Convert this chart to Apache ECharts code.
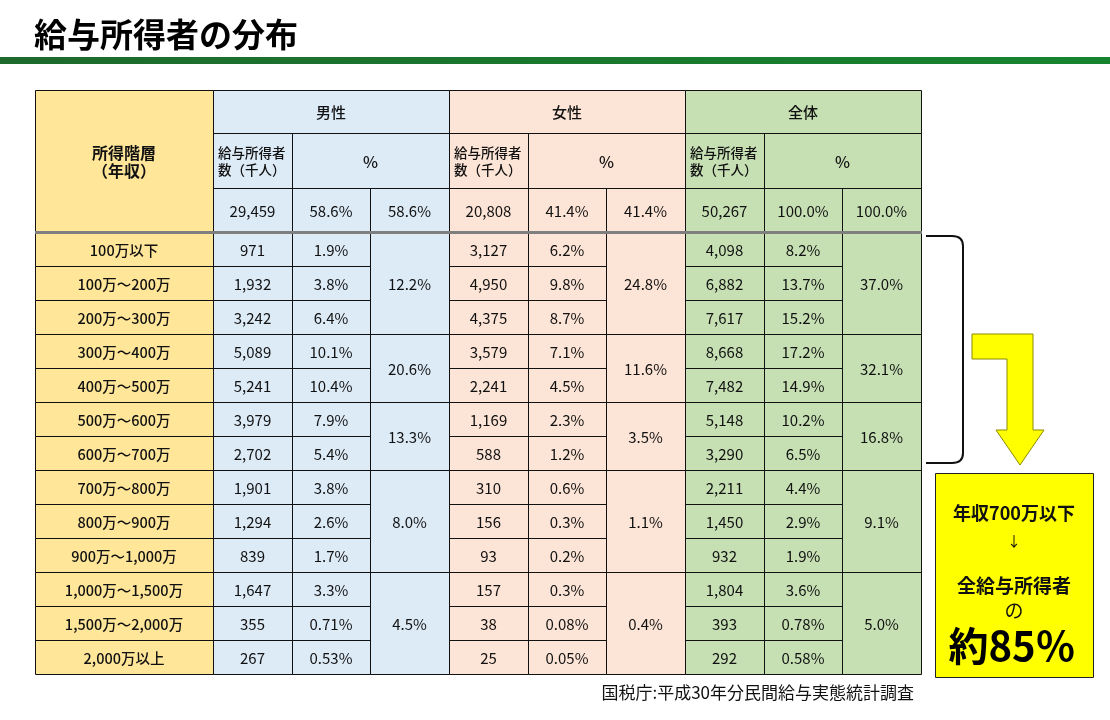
<!DOCTYPE html>
<html><head><meta charset="utf-8">
<script src="https://cdn.jsdelivr.net/npm/echarts@6/dist/echarts.min.js"></script>
<style>html,body{margin:0;padding:0;background:#fff}#c{width:1110px;height:720px}</style>
</head><body><div id="c"></div>
<script>
// ---------- DATA ----------
const incomeBands = ['100万以下','100万～200万','200万～300万','300万～400万','400万～500万','500万～600万','600万～700万','700万～800万','800万～900万','900万～1,000万','1,000万～1,500万','1,500万～2,000万','2,000万以上'];
const maleCount   = [971,1932,3242,5089,5241,3979,2702,1901,1294,839,1647,355,267];
const malePct     = ['1.9%','3.8%','6.4%','10.1%','10.4%','7.9%','5.4%','3.8%','2.6%','1.7%','3.3%','0.71%','0.53%'];
const femaleCount = [3127,4950,4375,3579,2241,1169,588,310,156,93,157,38,25];
const femalePct   = ['6.2%','9.8%','8.7%','7.1%','4.5%','2.3%','1.2%','0.6%','0.3%','0.2%','0.3%','0.08%','0.05%'];
const totalCount  = [4098,6882,7617,8668,7482,5148,3290,2211,1450,932,1804,393,292];
const totalPct    = ['8.2%','13.7%','15.2%','17.2%','14.9%','10.2%','6.5%','4.4%','2.9%','1.9%','3.6%','0.78%','0.58%'];
const bandGroups     = [[0,3],[3,5],[5,7],[7,10],[10,13]];
const maleGroupPct   = ['12.2%','20.6%','13.3%','8.0%','4.5%'];
const femaleGroupPct = ['24.8%','11.6%','3.5%','1.1%','0.4%'];
const totalGroupPct  = ['37.0%','32.1%','16.8%','9.1%','5.0%'];
const sexLabels = ['男性','女性','全体'];
const sumCount  = [29459,20808,50267];
const sumPct    = ['58.6%','41.4%','100.0%'];
const titleText = '給与所得者の分布';
const sourceText = '国税庁:平成30年分民間給与実態統計調査';
const calloutLines = ['年収700万以下','↓','全給与所得者','の','約85％'];
const bracketRows = [0, 7];

// ---------- LAYOUT / STYLE ----------
const FONT = '"Noto Sans CJK JP", "Noto Sans", sans-serif';
const colWidths = [178,79,78,79,79,78,79,79,78,79];
const headerHeights = [43,55,44];
const rowHeight = 34;
const groupFills = ['#DDEBF7','#FCE4D6','#C6E0B4'];
const labelFill = '#FFE699';

const colEdges = [0]; colWidths.forEach(w => colEdges.push(colEdges[colEdges.length-1] + w));
const headEdges = [0]; headerHeights.forEach(h => headEdges.push(headEdges[headEdges.length-1] + h));
const bodyTop = headEdges[3];
const rowEdge = r => bodyTop + r * rowHeight;
const tableW = colEdges[colEdges.length-1];
const tableH = bodyTop + incomeBands.length * rowHeight;

const fmt = n => n.toLocaleString('en-US');
const counts = [maleCount, femaleCount, totalCount];
const pcts = [malePct, femalePct, totalPct];
const groupPcts = [maleGroupPct, femaleGroupPct, totalGroupPct];

const cells = [];
function addCell(c0, c1, y0, y1, text, fill, opt) {
  cells.push(Object.assign({value:[colEdges[c0], colEdges[c1], y0, y1], text, fill, size:15, weight:'normal', align:'center', lh:18}, opt||{}));
}
addCell(0, 1, 0, bodyTop, '所得階層\n（年収）', labelFill, {size:16, weight:'bold', lh:18});
for (let g = 0; g < 3; g++) {
  const c = 1 + 3*g, f = groupFills[g];
  addCell(c, c+3, headEdges[0], headEdges[1], sexLabels[g], f, {size:15, weight:'500'});
  addCell(c, c+1, headEdges[1], headEdges[2], '給与所得者\n数（千人）', f, {size:13.5, align:'left', lh:17, weight:'500'});
  addCell(c+1, c+3, headEdges[1], headEdges[2], '%', f, {size:16, weight:'500'});
  addCell(c, c+1, headEdges[2], headEdges[3], fmt(sumCount[g]), f);
  addCell(c+1, c+2, headEdges[2], headEdges[3], sumPct[g], f);
  addCell(c+2, c+3, headEdges[2], headEdges[3], sumPct[g], f);
  for (let r = 0; r < incomeBands.length; r++) {
    addCell(c, c+1, rowEdge(r), rowEdge(r+1), fmt(counts[g][r]), f);
    addCell(c+1, c+2, rowEdge(r), rowEdge(r+1), pcts[g][r], f);
  }
  bandGroups.forEach((bg, k) => {
    addCell(c+2, c+3, rowEdge(bg[0]), rowEdge(bg[1]), groupPcts[g][k], f);
  });
}
for (let r = 0; r < incomeBands.length; r++) {
  addCell(0, 1, rowEdge(r), rowEdge(r+1), incomeBands[r], labelFill, {size:14.5, weight:'500'});
}

function renderCell(params, api) {
  const c = cells[params.dataIndex];
  const a = api.coord([api.value(0), api.value(2)]);
  const b = api.coord([api.value(1), api.value(3)]);
  const ax = Math.round(a[0]), ay = Math.round(a[1]);
  const w = Math.round(b[0]) - ax, h = Math.round(b[1]) - ay;
  return {type:'group', children:[
    {type:'rect', z2:0, shape:{x:ax, y:ay, width:w, height:h}, style:{fill:c.fill}},
    {type:'rect', z2:5, shape:{x:ax+0.5, y:ay+0.5, width:w, height:h}, style:{fill:'none', stroke:'#111', lineWidth:1}},
    {type:'text', z2:10, style:{text:c.text, x: c.align==='left' ? ax+5 : ax+w/2, y: ay+h/2+1,
      align:c.align, verticalAlign:'middle', fontSize:c.size, fontWeight:c.weight, fontFamily:FONT, fill:'#111', lineHeight:c.lh}}
  ]};
}
function renderSeparator(params, api) {
  const a = api.coord([api.value(0), api.value(2)]);
  const b = api.coord([api.value(1), api.value(2)]);
  return {type:'line', z2:20, shape:{x1:a[0], y1:Math.round(a[1])+0.5, x2:b[0]+1, y2:Math.round(a[1])+0.5}, style:{stroke:'#7f7f7f', lineWidth:3}};
}
function renderBracket(params, api) {
  const a = api.coord([api.value(0), api.value(1)]);
  const b = api.coord([api.value(0), api.value(2)]);
  const x0 = a[0] + 5, x1 = a[0] + 42, y0 = a[1] + 4, y1 = b[1] - 7;
  const d = `M${x0},${y0} L${x1-11},${y0} Q${x1},${y0} ${x1},${y0+10} L${x1},${y1-10} Q${x1},${y1} ${x1-11},${y1} L${x0},${y1}`;
  return {type:'path', shape:{pathData:d}, style:{fill:'none', stroke:'#111', lineWidth:2}};
}

const chart = echarts.init(document.getElementById('c'), null, {renderer:'canvas'});
chart.setOption({
  backgroundColor:'#ffffff',
  animation:false,
  title:[
    {text:titleText, left:29, top:13, textStyle:{fontSize:33, fontWeight:'bold', color:'#000', fontFamily:FONT}},
    {text:sourceText, right:191, top:679, textStyle:{fontSize:17, fontWeight:'normal', color:'#111', fontFamily:FONT}}
  ],
  grid:{left:35, top:90, width:tableW, height:tableH},
  xAxis:{type:'value', min:0, max:tableW, show:false},
  yAxis:{type:'value', min:0, max:tableH, inverse:true, show:false},
  series:[
    {type:'custom', renderItem:renderCell, data:cells.map(c => c.value), silent:true, clip:false},
    {type:'custom', renderItem:renderSeparator, data:[[0, tableW, bodyTop]], silent:true, clip:false},
    {type:'custom', renderItem:renderBracket, data:[[tableW, rowEdge(bracketRows[0]), rowEdge(bracketRows[1])]], silent:true, clip:false}
  ],
  graphic:[
    {type:'rect', shape:{x:0, y:57, width:1110, height:7}, style:{fill:new echarts.graphic.LinearGradient(0,0,1,0,[{offset:0,color:'#1d6a2c'},{offset:1,color:'#16842f'}])}, silent:true},
    {type:'polygon', shape:{points:[[972,334],[1033,334],[1033,430],[1044,430],[1020,465],[996,430],[1007,430],[1007,359],[972,359]]}, style:{fill:'#FFFF00', stroke:'#8a8a00', lineWidth:1}, silent:true},
    {type:'rect', shape:{x:935.5, y:473.5, width:158, height:204}, style:{fill:'#FFFF00', stroke:'#222', lineWidth:1}, silent:true},
    {type:'text', style:{text:calloutLines[0], x:1014, y:513, align:'center', verticalAlign:'middle', fontSize:18, fontWeight:'bold', fontFamily:FONT, fill:'#111'}, silent:true},
    {type:'text', style:{text:calloutLines[1], x:1014, y:541, align:'center', verticalAlign:'middle', fontSize:14, fontWeight:'normal', fontFamily:FONT, fill:'#111'}, silent:true},
    {type:'text', style:{text:calloutLines[2], x:1014, y:586, align:'center', verticalAlign:'middle', fontSize:19, fontWeight:'bold', fontFamily:FONT, fill:'#111'}, silent:true},
    {type:'text', style:{text:calloutLines[3], x:1014, y:611, align:'center', verticalAlign:'middle', fontSize:19, fontWeight:'normal', fontFamily:FONT, fill:'#111'}, silent:true},
    {type:'text', style:{text:calloutLines[4], x:1012, y:646, align:'center', verticalAlign:'middle', fontSize:40, fontWeight:'bold', fontFamily:FONT, fill:'#000'}, silent:true}
  ]
});
</script></body></html>
